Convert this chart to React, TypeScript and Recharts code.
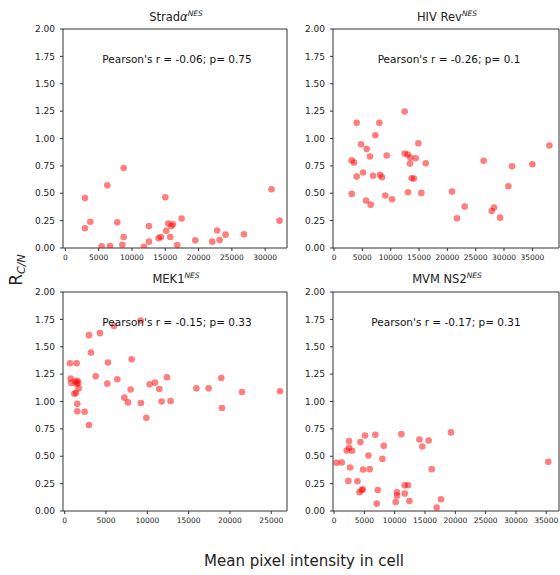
import React from "react";
import { ScatterChart, Scatter, XAxis, YAxis, ReferenceArea } from "recharts";

// ---- Data ----
const stradaX = [2950, 2950, 3750, 5450, 6300, 6700, 7800, 8550, 8750, 8750, 11800, 12550, 12550, 14000, 14350, 15000, 15150, 15450, 15750, 15900, 16150, 16800, 17450, 19500, 22050, 22800, 23150, 24050, 26800, 30950, 32150];
const stradaY = [0.457, 0.18, 0.24, 0.015, 0.573, 0.018, 0.235, 0.03, 0.73, 0.1, 0.01, 0.2, 0.058, 0.09, 0.1, 0.463, 0.158, 0.223, 0.1, 0.2, 0.216, 0.027, 0.27, 0.07, 0.058, 0.16, 0.073, 0.122, 0.125, 0.537, 0.25];

const hivX = [3120, 3530, 3120, 4000, 4000, 4760, 5120, 5650, 5760, 6350, 6470, 6880, 7290, 8000, 8120, 8470, 9060, 9290, 10240, 12470, 12470, 13000, 13060, 13410, 13470, 13700, 14100, 14410, 14880, 15410, 16180, 20820, 21700, 23060, 26400, 27820, 28240, 29300, 30760, 31410, 35000, 38000];
const hivY = [0.8, 0.78, 0.494, 1.143, 0.652, 0.948, 0.689, 0.433, 0.905, 0.835, 0.396, 0.66, 1.03, 1.143, 0.668, 0.646, 0.48, 0.845, 0.445, 1.247, 0.863, 0.854, 0.509, 0.771, 0.826, 0.637, 0.634, 0.82, 0.957, 0.503, 0.774, 0.515, 0.271, 0.378, 0.796, 0.338, 0.369, 0.277, 0.564, 0.747, 0.765, 0.936];

const mekX = [645, 1450, 725, 800, 1290, 1530, 1650, 1450, 1700, 1170, 1370, 1530, 1530, 2420, 2940, 2940, 3190, 3750, 4270, 5160, 5240, 5970, 6370, 7220, 7660, 7980, 8100, 9200, 9230, 9880, 10280, 10930, 11450, 11730, 12380, 12820, 15930, 17420, 18950, 19030, 21450, 26050];
const mekY = [1.35, 1.35, 1.21, 1.17, 1.18, 1.19, 1.17, 1.16, 1.12, 1.07, 1.08, 0.98, 0.91, 0.907, 1.606, 0.785, 1.447, 1.23, 1.624, 1.163, 1.356, 1.69, 1.203, 1.035, 0.992, 1.11, 1.386, 1.74, 0.986, 0.852, 1.157, 1.172, 1.114, 1.0, 1.221, 1.005, 1.12, 1.12, 1.215, 0.94, 1.087, 1.093];

const mvmX = [385, 1260, 2090, 2470, 2470, 2360, 2640, 2970, 3850, 4180, 4340, 4560, 4730, 4780, 5110, 5660, 5880, 6810, 7030, 7200, 7970, 8190, 10160, 10380, 10380, 11100, 11650, 11650, 12200, 12420, 14070, 14560, 15600, 16100, 16920, 17640, 19290, 35330];
const mvmY = [0.44, 0.443, 0.553, 0.638, 0.577, 0.275, 0.397, 0.55, 0.272, 0.171, 0.629, 0.19, 0.198, 0.379, 0.69, 0.507, 0.382, 0.696, 0.067, 0.192, 0.476, 0.595, 0.082, 0.171, 0.14, 0.702, 0.235, 0.159, 0.235, 0.092, 0.653, 0.589, 0.644, 0.382, 0.031, 0.107, 0.718, 0.449];

const yTicks = [0, 0.25, 0.5, 0.75, 1.0, 1.25, 1.5, 1.75, 2.0];
const xTicks30 = [0, 5000, 10000, 15000, 20000, 25000, 30000];
const xTicks35 = [0, 5000, 10000, 15000, 20000, 25000, 30000, 35000];
const xTicks25 = [0, 5000, 10000, 15000, 20000, 25000];

const titles = ["Strad", "HIV Rev", "MEK1", "MVM NS2"];
const annotations = [
  "Pearson's r = -0.06; p= 0.75",
  "Pearson's r = -0.26; p= 0.1",
  "Pearson's r = -0.15; p= 0.33",
  "Pearson's r = -0.17; p= 0.31",
];
const xLabel = "Mean pixel intensity in cell";

const FONT = "DejaVu Sans, sans-serif";
const SPINE = "#333";

const zip = (xs: number[], ys: number[]) => xs.map((x, i) => ({ x, y: ys[i] }));

const Dot = (props: any) => (
  <circle cx={props.cx} cy={props.cy} r={3.3} fill="#ff0000" fillOpacity={0.5} />
);

type PanelProps = {
  left: number;
  top: number;
  yAxisWidth: number;
  plotWidth: number;
  data: { x: number; y: number }[];
  domain: [number, number];
  xTicks: number[];
};

const Panel = ({ left, top, yAxisWidth, plotWidth, data, domain, xTicks }: PanelProps) => {
  const plotHeight = 219;
  const width = yAxisWidth + plotWidth + 2;
  const height = 5 + plotHeight + 25;
  return (
    <div style={{ position: "absolute", left, top }}>
      <ScatterChart width={width} height={height} margin={{ top: 5, right: 2, left: 0, bottom: 0 }}>
        <XAxis
          type="number"
          dataKey="x"
          domain={domain}
          ticks={xTicks}
          allowDataOverflow
          height={25}
          axisLine={false}
          tickLine={{ stroke: SPINE }}
          tickSize={3}
          tickMargin={4}
          interval={0}
          tick={{ fontSize: 7.5, fill: "#222", fontFamily: FONT }}
        />
        <YAxis
          type="number"
          dataKey="y"
          domain={[0, 2]}
          ticks={yTicks}
          allowDataOverflow
          width={yAxisWidth}
          axisLine={false}
          tickLine={{ stroke: SPINE }}
          tickSize={3}
          tickMargin={5}
          interval={0}
          tickFormatter={(v: number) => v.toFixed(2)}
          tick={{ fontSize: 9, fill: "#222", fontFamily: FONT }}
        />
        <ReferenceArea
          x1={domain[0]}
          x2={domain[1]}
          y1={0}
          y2={2}
          fill="none"
          stroke={SPINE}
          strokeWidth={1}
          ifOverflow="visible"
        />
        <Scatter data={data} shape={Dot} isAnimationActive={false} />
      </ScatterChart>
    </div>
  );
};

const Title = ({ x, y, main, alpha }: { x: number; y: number; main: string; alpha?: boolean }) => (
  <text x={x} y={y} textAnchor="middle" fontSize={11.5} fontFamily={FONT} fill="#222">
    {main}
    {alpha ? <tspan fontStyle="italic">α</tspan> : null}
    <tspan fontSize={7.5} fontStyle="italic" dy={-5}>NES</tspan>
  </text>
);

export default function App() {
  return (
    <div
      style={{
        position: "absolute",
        left: 0,
        top: 0,
        width: 560,
        height: 575,
        overflow: "hidden",
        background: "#fff",
      }}
    >
      <Panel left={0} top={24} yAxisWidth={63} plotWidth={224} data={zip(stradaX, stradaY)} domain={[-350, 33270]} xTicks={xTicks30} />
      <Panel left={290} top={24} yAxisWidth={43} plotWidth={226} data={zip(hivX, hivY)} domain={[-180, 39700]} xTicks={xTicks35} />
      <Panel left={0} top={287} yAxisWidth={63} plotWidth={224} data={zip(mekX, mekY)} domain={[-200, 26900]} xTicks={xTicks25} />
      <Panel left={290} top={287} yAxisWidth={43} plotWidth={226} data={zip(mvmX, mvmY)} domain={[-180, 37100]} xTicks={xTicks35} />
      <svg
        width={560}
        height={575}
        style={{ position: "absolute", left: 0, top: 0, pointerEvents: "none" }}
      >
        <Title x={176} y={21} main={titles[0]} alpha />
        <Title x={447} y={21} main={titles[1]} />
        <Title x={176} y={283} main={titles[2]} />
        <Title x={447} y={283} main={titles[3]} />
        <text x={177} y={63} textAnchor="middle" fontSize={10.5} fontFamily={FONT} fill="#111">{annotations[0]}</text>
        <text x={449} y={63} textAnchor="middle" fontSize={10.5} fontFamily={FONT} fill="#111">{annotations[1]}</text>
        <text x={177} y={326} textAnchor="middle" fontSize={10.5} fontFamily={FONT} fill="#111">{annotations[2]}</text>
        <text x={446} y={326} textAnchor="middle" fontSize={10.5} fontFamily={FONT} fill="#111">{annotations[3]}</text>
        <text transform="translate(22,270) rotate(-90)" textAnchor="middle" fontSize={17} fontFamily={FONT} fill="#222">
          R<tspan fontSize={11} fontStyle="italic" dy={3}>C/N</tspan>
        </text>
        <text x={304} y={566} textAnchor="middle" fontSize={15} fontFamily={FONT} fill="#222">{xLabel}</text>
      </svg>
    </div>
  );
}
